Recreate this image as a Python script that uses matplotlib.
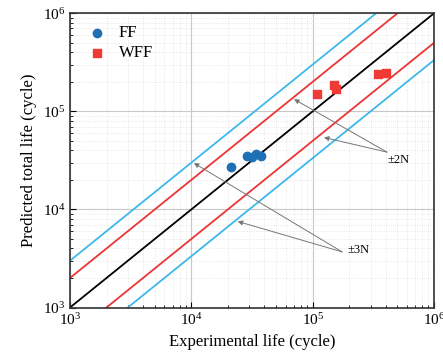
import numpy as np
import matplotlib.pyplot as plt
from matplotlib.ticker import LogLocator, NullFormatter

plt.rcParams['font.family'] = ['Liberation Serif', 'DejaVu Serif']
plt.rcParams['mathtext.fontset'] = 'stix'

# FF 데이터 (실험 수명, 예측 수명)
ff_exp = [2.11e4, 2.86e4, 3.15e4, 3.40e4, 3.75e4]
ff_pred = [2.68e4, 3.52e4, 3.44e4, 3.64e4, 3.47e4]

# WFF 데이터
wff_exp = [1.08e5, 1.50e5, 1.56e5, 3.44e5, 4.01e5]
wff_pred = [1.50e5, 1.87e5, 1.68e5, 2.40e5, 2.44e5]

# 분산대 계수
band_factors = [1, 2, 0.5, 3, 1 / 3]
band_colors = ['black', '#ec3434', '#ec3434', '#3cb8ea', '#3cb8ea']

fig = plt.figure(figsize=(4.43, 3.56), dpi=100)
ax = fig.add_axes([70 / 443, 1 - 307.5 / 356, 364 / 443, 294.2 / 356])

xs = np.array([1e3, 1e6])
for f, c in zip(band_factors, band_colors):
    ax.plot(xs, xs * f, color=c, lw=1.3, zorder=2)

ax.scatter(ff_exp, ff_pred, s=36, marker='o', color='#1f6fb5', label='FF', zorder=4)
ax.scatter(wff_exp, wff_pred, s=30, marker='s', color='#f03a35', label='WFF', zorder=4)

ax.set_xscale('log')
ax.set_yscale('log')
ax.set_xlim(1e3, 1e6)
ax.set_ylim(1e3, 1e6)

for axis in (ax.xaxis, ax.yaxis):
    axis.set_major_locator(LogLocator(base=10, numticks=10))
    axis.set_minor_locator(LogLocator(base=10, subs=np.arange(2, 10), numticks=10))
    axis.set_minor_formatter(NullFormatter())

ax.grid(which='major', color='#c8c8c8', lw=0.8)
ax.grid(which='minor', color='#e2e2e2', lw=0.6, ls=':')
ax.set_axisbelow(True)

ax.tick_params(which='both', direction='in', top=False, right=False, labelsize=11)
ax.tick_params(which='major', length=4)
ax.tick_params(which='minor', length=2.5)
for s in ax.spines.values():
    s.set_linewidth(1.2)
    s.set_color('#333333')

ax.set_xlabel('Experimental life (cycle)', fontsize=12)
ax.set_ylabel('Predicted total life (cycle)', fontsize=12)

# 주석 화살표
arrow_kw = dict(arrowstyle='-|>', color='#777777', lw=0.7, mutation_scale=7,
                shrinkA=0, shrinkB=0)
ax.text(5.06e5, 3.18e4, '±2N', ha='center', va='center', fontsize=9)
ax.annotate('', xy=(7.03e4, 1.33e5), xytext=(4.1e5, 3.84e4), arrowprops=arrow_kw)
ax.annotate('', xy=(1.24e5, 5.42e4), xytext=(4.1e5, 3.84e4), arrowprops=arrow_kw)
ax.text(2.37e5, 3.85e3, '±3N', ha='center', va='center', fontsize=9)
ax.annotate('', xy=(1.05e4, 2.97e4), xytext=(1.75e5, 3.69e3), arrowprops=arrow_kw)
ax.annotate('', xy=(2.41e4, 7.55e3), xytext=(1.75e5, 3.69e3), arrowprops=arrow_kw)

ax.legend(loc='upper left', frameon=False, fontsize=12, handletextpad=0.7,
          handlelength=1.2, borderaxespad=0.4, labelspacing=0.25,
          bbox_to_anchor=(0.01, 1.005))

fig.savefig('out.png', dpi=100)
